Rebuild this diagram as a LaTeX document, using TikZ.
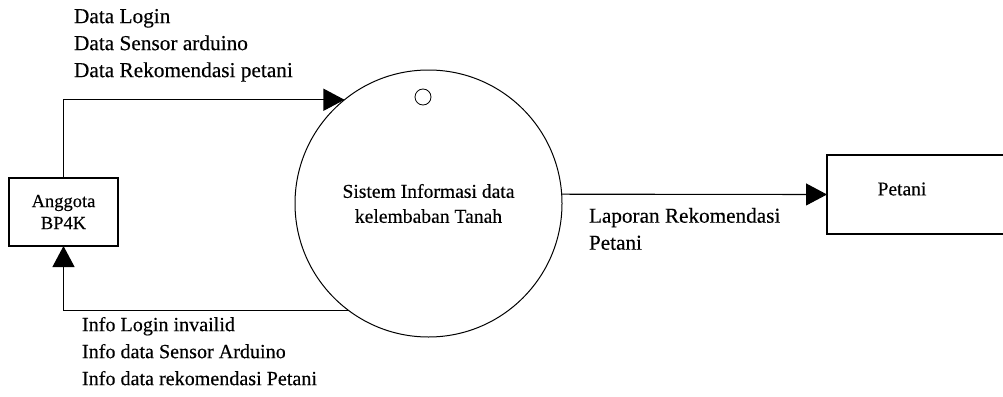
\documentclass[tikz,border=0pt]{standalone}
\usepackage{fontspec}
\setmainfont{Liberation Serif}[FakeBold=0.35]
\usetikzlibrary{arrows.meta}
\begin{document}
\begin{tikzpicture}[x=1pt,y=-1pt,
  every node/.style={inner sep=0pt, outer sep=0pt},
  lbl/.style={align=left, anchor=north west},
  entity/.style={draw, line width=1.1pt, rectangle},
  flow/.style={line width=1.1pt, -{Triangle[length=21pt,width=22pt]}}
]
\useasboundingbox (0,0) rectangle (1003,396);

% external entities and the process
\node[entity, minimum width=109pt, minimum height=68pt, align=center,
      font=\fontsize{18.5}{22}\selectfont] (anggota) at (63.5,212) {Anggota\\BP4K};
\node[draw, circle, line width=1pt, minimum size=267pt, align=center,
      font=\fontsize{19.6}{25}\selectfont] (proc) at (428.5,203.5)
      {Sistem Informasi data\\kelembaban Tanah};
\node[draw, circle, line width=0.8pt, minimum size=16pt] (procno) at (423,97) {};
\node[entity, minimum width=180pt, minimum height=79pt] (petani) at (917,194.5) {};
\node[font=\fontsize{19.5}{25}\selectfont] (petanitext) at (902,189) {Petani};

% data flows
\draw[flow] (anggota.north) |- (proc.129.8);
\draw[flow] (proc.233.6) -| (anggota.south);
\draw[flow] (proc.4) -- (petani.west);

% flow labels
\node[lbl, font=\fontsize{21.3}{27}\selectfont] (inlbl) at (74,9)
      {Data Login\\Data Sensor arduino\\Data Rekomendasi petani};
\node[lbl, font=\fontsize{20.1}{27}\selectfont] (outlbl) at (82,317)
      {Info Login invailid\\Info data Sensor Arduino\\Info data rekomendasi Petani};
\node[lbl, font=\fontsize{21.2}{27}\selectfont] (replbl) at (589,208)
      {Laporan Rekomendasi\\Petani};
\end{tikzpicture}
\end{document}
